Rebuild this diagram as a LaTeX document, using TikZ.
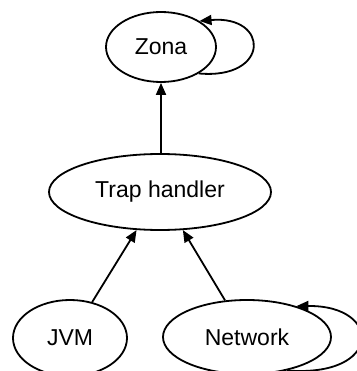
\documentclass[tikz,border=0pt]{standalone}
\usepackage{fontspec}
\setmainfont{Liberation Sans}
\usetikzlibrary{arrows.meta,shapes.geometric}
\begin{document}
\begin{tikzpicture}[x=1pt,y=-1pt,
  gnode/.style={ellipse,draw,line width=1.8pt,inner sep=0pt,font=\fontsize{23}{26}\selectfont},
  gedge/.style={line width=1.8pt,-{Triangle[length=12pt,width=10pt]}}]
\useasboundingbox (0,0) rectangle (356,371);
\node[gnode,minimum width=110pt,minimum height=70pt] (Zona) at (161,47) {Zona};
\node[gnode,minimum width=222pt,minimum height=76pt] (Trap) at (160,192) {Trap handler};
\node[gnode,minimum width=114pt,minimum height=76pt] (JVM) at (70,338) {JVM};
\node[gnode,minimum width=168pt,minimum height=74pt] (Net) at (247,337) {Network};
\draw[gedge] (Trap.north -| Zona.south) -- (Zona.south);
\draw[gedge] (JVM) -- (Trap);
\draw[gedge] (Net) -- (Trap);
\draw[gedge] (Zona.-35) .. controls (270,80) and (270,15) .. (Zona.34);
\draw[gedge] (Net.-40) .. controls (383,378) and (383,305) .. (Net.32);
\end{tikzpicture}
\end{document}
